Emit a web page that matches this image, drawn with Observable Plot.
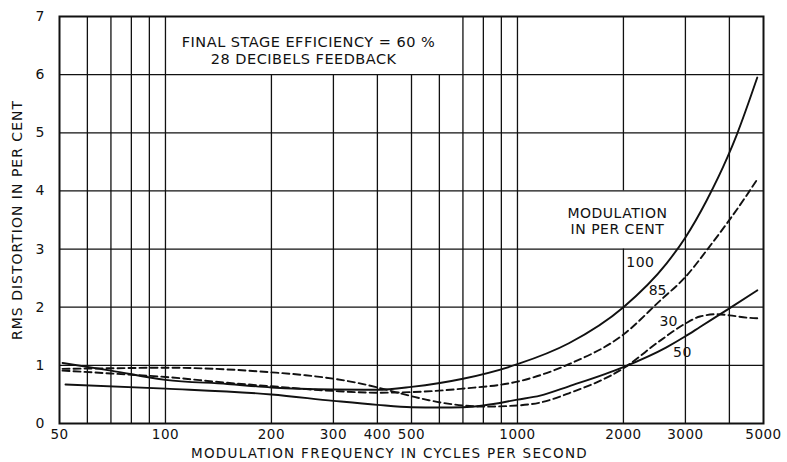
<!DOCTYPE html>
<html><head><meta charset="utf-8">
<script src="https://cdn.jsdelivr.net/npm/d3@7"></script>
<script src="https://cdn.jsdelivr.net/npm/@observablehq/plot@0.6"></script>
<style>
html,body{margin:0;padding:0;background:#fff;}
#chart svg{display:block;}
</style>
</head><body><div id="chart"></div>
<script>
// ---- tick labels & grid ----
const xTicks = [50, 100, 200, 300, 400, 500, 1000, 2000, 3000, 5000];
const yTicks = [0, 1, 2, 3, 4, 5, 6, 7];
const gridFull = [60, 70, 80, 90, 100, 700, 800, 900, 1000, 3000, 4000];
const gridShort = [200, 300, 400, 500, 600];   // stop under the title box
const gridSplit = [2000];                      // broken by the legend heading
const yGrid = [1, 2, 3, 4, 5, 6];

// ---- texts ----
const titleLines = ["FINAL STAGE EFFICIENCY = 60 %", "28 DECIBELS FEEDBACK"];
const legendLines = ["MODULATION", "IN PER CENT"];
const curveNames = ["100", "85", "30", "50"];
const xTitle = "MODULATION FREQUENCY IN CYCLES PER SECOND";
const yTitle = "RMS DISTORTION IN PER CENT";

// ---- series (frequency in c/s, RMS distortion in %) ----
const f100 = [51, 70, 100, 150, 200, 300, 400, 500, 700, 1000, 1400, 2000, 2650, 3000, 3450, 3950, 4200, 4800];
const v100 = [1.04, 0.91, 0.75, 0.68, 0.62, 0.585, 0.58, 0.63, 0.77, 1.02, 1.38, 2.0, 2.75, 3.2, 3.84, 4.58, 4.97, 5.95];

const f85 = [51, 70, 100, 150, 200, 300, 400, 500, 700, 1000, 1160, 1400, 2000, 2550, 3000, 3500, 4450, 4800];
const v85 = [0.91, 0.86, 0.80, 0.70, 0.64, 0.56, 0.53, 0.54, 0.60, 0.72, 0.83, 1.02, 1.53, 2.12, 2.52, 3.03, 3.90, 4.20];

const f30 = [51, 70, 100, 150, 200, 250, 300, 350, 400, 450, 500, 560, 700, 800, 1000, 1160, 1400, 2000, 2550, 3000, 3300, 3700, 4000, 4500, 4800];
const v30 = [0.94, 0.95, 0.96, 0.93, 0.88, 0.83, 0.77, 0.70, 0.62, 0.54, 0.47, 0.40, 0.31, 0.29, 0.31, 0.36, 0.52, 0.95, 1.43, 1.72, 1.84, 1.88, 1.86, 1.82, 1.81];

const f50 = [52, 100, 200, 300, 400, 500, 600, 700, 800, 1000, 1160, 1400, 2000, 2650, 3000, 3300, 4000, 4800];
const v50 = [0.67, 0.60, 0.50, 0.39, 0.32, 0.28, 0.275, 0.28, 0.31, 0.41, 0.48, 0.64, 0.97, 1.31, 1.50, 1.66, 1.98, 2.29];

const seriesDefs = [
  {name: "100", f: f100, v: v100, dashed: false},
  {name: "85", f: f85, v: v85, dashed: true},
  {name: "30", f: f30, v: v30, dashed: true},
  {name: "50", f: f50, v: v50, dashed: false}
];
const rows = seriesDefs.flatMap(s => s.f.map((f, i) => ({series: s.name, dashed: s.dashed, f, v: s.v[i]})));

const ink = "#111";
const gridW = 1.3;

const chart = Plot.plot({
  width: 787,
  height: 462,
  marginLeft: 59,
  marginRight: 24,
  marginTop: 16,
  marginBottom: 39,
  style: {fontFamily: "DejaVu Sans", fontSize: "14px", color: ink, background: "#fff"},
  x: {type: "log", domain: [50, 5000]},
  y: {domain: [0, 7]},
  marks: [
    Plot.ruleX(gridFull, {stroke: ink, strokeWidth: gridW}),
    Plot.ruleX(gridShort, {y1: 0, y2: 6, stroke: ink, strokeWidth: gridW}),
    Plot.ruleX(gridSplit, {y1: 0, y2: 3, stroke: ink, strokeWidth: gridW}),
    Plot.ruleX(gridSplit, {y1: 4, y2: 7, stroke: ink, strokeWidth: gridW}),
    Plot.ruleY(yGrid, {stroke: ink, strokeWidth: gridW}),
    Plot.frame({stroke: ink, strokeWidth: 2}),
    Plot.line(rows.filter(d => !d.dashed), {x: "f", y: "v", z: "series", stroke: ink, strokeWidth: 1.9, curve: "monotone-x"}),
    Plot.line(rows.filter(d => d.dashed), {x: "f", y: "v", z: "series", stroke: ink, strokeWidth: 1.9, strokeDasharray: "7,4", curve: "monotone-x"}),
    Plot.axisX({ticks: xTicks, tickSize: 0, tickPadding: 6, tickFormat: d => String(d), label: null, fontSize: 13.5}),
    Plot.axisY({ticks: yTicks, tickSize: 0, tickPadding: 15, tickFormat: d => String(d), label: null, fontSize: 14}),
    Plot.text(titleLines, {x: [255, 247], y: [6.56, 6.27], text: d => d, fontSize: 14.5}),
    Plot.text(legendLines, {x: [1923, 1923], y: [3.61, 3.34], text: d => d, fontSize: 14}),
    Plot.text(curveNames, {x: [2234, 2501, 2686, 2943], y: [2.77, 2.29, 1.76, 1.22], text: d => d, fontSize: 14}),
    Plot.text([xTitle], {frameAnchor: "bottom", dx: -22, dy: 34, text: d => d, fontSize: 13.5}),
    Plot.text([yTitle], {frameAnchor: "left", dx: -42, rotate: -90, textAnchor: "middle", text: d => d, fontSize: 14})
  ]
});

document.getElementById("chart").appendChild(chart);

// letter spacing to mimic the wide technical lettering
const spacing = new Map([
  ...titleLines.map(t => [t, "0.5px"]),
  ...legendLines.map(t => [t, "0.5px"]),
  [xTitle, "1.3px"],
  [yTitle, "1px"],
  ...xTicks.map(t => [String(t), "0.5px"])
]);
chart.querySelectorAll("text").forEach(el => {
  const s = spacing.get(el.textContent);
  if (s) el.style.letterSpacing = s;
});
</script>
</body></html>
